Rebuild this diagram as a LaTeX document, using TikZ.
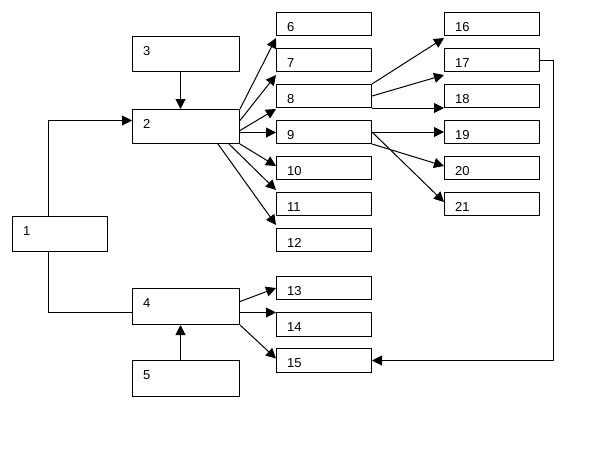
\documentclass[tikz,border=0pt]{standalone}
\usepackage{fontspec}
\setmainfont{Liberation Sans}
\usetikzlibrary{arrows.meta}
\tikzset{
  box/.style={draw, line width=1pt, anchor=north west, inner sep=0pt, fill=white},
  lbl/.style={anchor=north west, inner sep=0pt, font=\fontsize{13}{13}\selectfont},
  conn/.style={line width=1pt},
  arr/.style={line width=1pt, -{Triangle[length=10pt,width=10pt]}},
}
\newcommand\bx[6]{%
  \node[box, minimum width=#4pt, minimum height=#5pt] (#1) at (#2,#3) {};
  \node[lbl] (#1t) at ([xshift=11pt,yshift=-10.5pt]#1.north west) {#6};}
\begin{document}
\begin{tikzpicture}[x=1pt,y=-1pt]
\useasboundingbox (0,0) rectangle (589,459);
% left boxes
\bx{b1}{12}{216}{95}{35}{1}
\bx{b3}{132}{36}{107}{35}{3}
\bx{b2}{132}{109}{107}{34}{2}
\bx{b4}{132}{288}{107}{36}{4}
\bx{b5}{132}{360}{107}{36}{5}
% middle column
\bx{b6}{276}{12}{95}{23}{6}
\bx{b7}{276}{48}{95}{23}{7}
\bx{b8}{276}{84}{95}{23}{8}
\bx{b9}{276}{120}{95}{23}{9}
\bx{b10}{276}{156}{95}{23}{10}
\bx{b11}{276}{192}{95}{23}{11}
\bx{b12}{276}{228}{95}{23}{12}
\bx{b13}{276}{276}{95}{23}{13}
\bx{b14}{276}{312}{95}{24}{14}
\bx{b15}{276}{348}{95}{24}{15}
% right column
\bx{b16}{444}{12}{95}{23}{16}
\bx{b17}{444}{48}{95}{23}{17}
\bx{b18}{444}{84}{95}{23}{18}
\bx{b19}{444}{120}{95}{23}{19}
\bx{b20}{444}{156}{95}{23}{20}
\bx{b21}{444}{192}{95}{23}{21}
% connectors from 1
\draw[arr] ([xshift=-11.5pt]b1.north) |- ([yshift=6pt]b2.west);
\draw[conn] ([xshift=-11.5pt]b1.south) |- ([yshift=-6pt]b4.west);
% 3 -> 2, 5 -> 4
\draw[arr] ([xshift=-5.5pt]b3.south) -- ([xshift=-5.5pt]b2.north);
\draw[arr] ([xshift=-5.5pt]b5.north) -- ([xshift=-5.5pt]b4.south);
% from 2
\draw[arr] (b2.north east) -- ([yshift=-2pt]b6.south west);
\draw[arr] ([yshift=6pt]b2.east) -- ([yshift=-3pt]b7.south west);
\draw[arr] ([yshift=-4pt]b2.east) -- ([yshift=-1pt]b8.south west);
\draw[arr] ([yshift=-6pt]b2.east) -- ([yshift=-6pt]b2.east -| b9.west);
\draw[arr] (b2.south east) -- ([yshift=-10pt]b10.north west);
\draw[arr] ([xshift=-11pt]b2.south east) -- ([yshift=2pt]b11.north west);
\draw[arr] ([xshift=-22pt]b2.south east) -- ([yshift=3pt]b12.north west);
% from 4
\draw[arr] ([yshift=5pt]b4.east) -- (b13.west);
\draw[arr] ([yshift=-6pt]b4.east) -- ([yshift=-6pt]b4.east -| b14.west);
\draw[arr] (b4.south east) -- ([yshift=2pt]b15.west);
% from 8
\draw[arr] (b8.north east) -- ([yshift=-2pt]b16.south west);
\draw[arr] (b8.east) -- ([yshift=-3pt]b17.south west);
\draw[arr] (b8.south east) -- (b8.south east -| b18.west);
% from 9
\draw[arr] (b9.east) -- (b19.west);
\draw[arr] (b9.south east) -- ([yshift=-10pt]b20.north west);
\draw[arr] (b9.east) -- ([yshift=-10pt]b21.north west);
% 17 -> 15
\draw[arr] (b17.east) -- ++(13,0) |- (b15.east);
\end{tikzpicture}
\end{document}
